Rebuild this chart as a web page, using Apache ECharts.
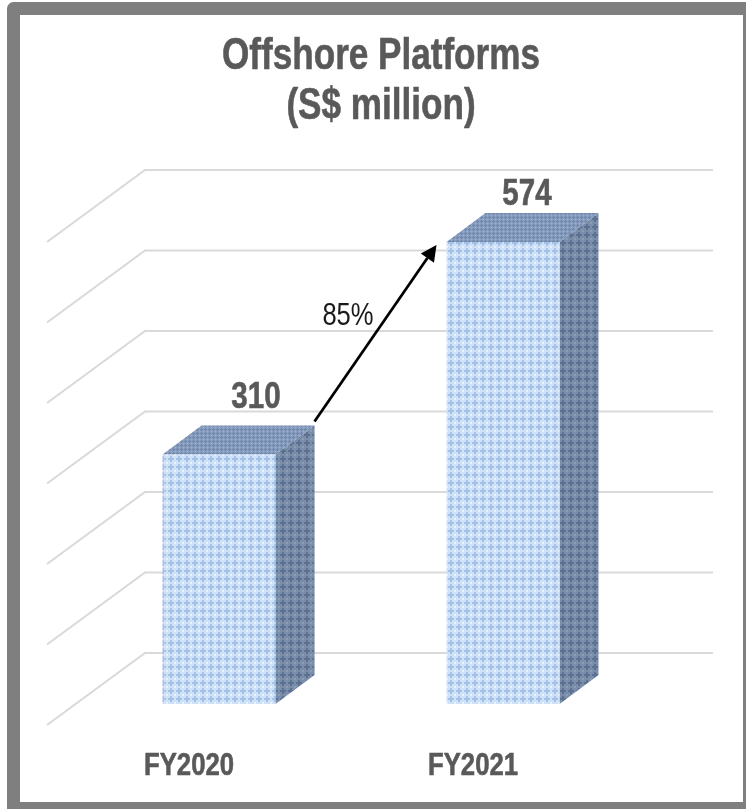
<!DOCTYPE html>
<html><head><meta charset="utf-8">
<style>html,body{margin:0;padding:0;background:#fff}#c{width:746px;height:809px}</style>
<script src="https://cdn.jsdelivr.net/npm/echarts@6/dist/echarts.min.js"></script></head>
<body><div id="c"></div>
<script>
const categories = ['FY2020', 'FY2021'];
const revenue = [310, 574];
const gridTicks = [0, 100, 200, 300, 400, 500, 600];
const growthLabel = '85%';
const titleLine1 = 'Offshore Platforms';
const titleLine2 = '(S$ million)';

const FONT = '"Liberation Sans",Arial,sans-serif';
const DEPTH = [98, -72], BAR_NEAR = [30, -21], BAR_DEPTH = [39, -29], BAR_W = 113;
const LABEL_SHIFT = [[17.5, -27], [4.5, -18]];

function tile(bg, fg, hi, cell) {
  const size = cell * 4;
  const c = document.createElement('canvas'); c.width = c.height = size;
  const g = c.getContext('2d');
  g.fillStyle = bg; g.fillRect(0, 0, size, size);
  g.fillStyle = fg;
  [[1, 0], [0, 1], [1, 1], [2, 1], [1, 2]].forEach(p => g.fillRect(p[0] * cell, p[1] * cell, cell, cell));
  g.fillStyle = hi;
  [[3, 3]].forEach(p => g.fillRect(p[0] * cell, p[1] * cell, cell, cell));
  return c;
}
const frontFill = { image: tile('#cfe1f6', '#a4c1e7', '#e6f0fb', 2), repeat: 'repeat' };
const topFill = { image: tile('#8a9fc0', '#6f88ad', '#9cb0cc', 1), repeat: 'repeat' };
const sideFill = { image: tile('#7a8da9', '#5c7192', '#8b9cb4', 2), repeat: 'repeat' };

function condensed(text, x, y, size, sx, weight, fill) {
  const heavy = weight === 'bold';
  return { type: 'text', x, y, scaleX: sx, z: 5,
    style: { text, fontFamily: FONT, fontSize: size, fontWeight: weight, fill, align: 'center', verticalAlign: 'middle',
      stroke: heavy ? fill : 'none', lineWidth: heavy ? 0.6 : 0 } };
}

const chart = echarts.init(document.getElementById('c'), null, { renderer: 'canvas' });
chart.setOption({
  animation: false,
  backgroundColor: '#fff',
  graphic: [
    { type: 'rect', z: 0, shape: { x: 13.5, y: 8.5, width: 736, height: 800 },
      style: { fill: 'none', stroke: '#7f7f7f', lineWidth: 13, lineJoin: 'round' } },
    condensed(titleLine1, 381, 57, 45, 0.78, 'bold', '#595959'),
    condensed(titleLine2, 381, 107, 45, 0.78, 'bold', '#595959')
  ],
  grid: { left: 47, right: 131, top: 242, bottom: 84 },
  xAxis: { type: 'category', data: categories, axisLine: { show: false }, axisTick: { show: false },
    axisLabel: { show: false } },
  yAxis: { type: 'value', min: 0, max: 600, interval: 100, axisLabel: { show: false },
    axisLine: { show: false }, axisTick: { show: false }, splitLine: { show: false } },
  series: [
    { type: 'custom', z: 1, data: gridTicks, silent: true, clip: false, encode: { y: 0 },
      renderItem(p, api) {
        const y = api.coord([0, api.value(0)])[1];
        const x0 = p.coordSys.x, x1 = x0 + p.coordSys.width;
        return { type: 'polyline', shape: { points: [[x0, y], [x0 + DEPTH[0], y + DEPTH[1]], [x1 + DEPTH[0], y + DEPTH[1]]] },
          style: { fill: 'none', stroke: '#d9d9d9', lineWidth: 2 } };
      } },
    { type: 'custom', z: 2, silent: true, clip: false, data: revenue.map((v, i) => [i, v]), encode: { x: 0, y: 1 },
      renderItem(p, api) {
        const i = api.value(0), v = api.value(1);
        const t = api.coord([i, v]), b = api.coord([i, 0]);
        const l = t[0] + BAR_NEAR[0] - BAR_W / 2, r = l + BAR_W;
        const yt = t[1] + BAR_NEAR[1], yb = b[1] + BAR_NEAR[1];
        const dx = BAR_DEPTH[0], dy = BAR_DEPTH[1];
        return { type: 'group', children: [
          { type: 'polygon', shape: { points: [[r, yt], [r + dx, yt + dy], [r + dx, yb + dy], [r, yb]] }, style: { fill: sideFill } },
          { type: 'polygon', shape: { points: [[l, yt], [l + dx, yt + dy], [r + dx, yt + dy], [r, yt]] }, style: { fill: topFill } },
          { type: 'rect', shape: { x: l, y: yt, width: BAR_W, height: yb - yt }, style: { fill: frontFill } },
          condensed(String(v), (l + r) / 2 + dx / 2 + LABEL_SHIFT[i][0], yt + dy + LABEL_SHIFT[i][1], 36, 0.82, 'bold', '#595959'),
          condensed(categories[i], b[0], b[1] + 41, 31, 0.83, 'bold', '#595959')
        ] };
      } },
    { type: 'custom', z: 3, silent: true, clip: false, data: [[revenue[0], revenue[1]]], encode: { y: [0, 1] },
      renderItem(p, api) {
        const a = api.coord([0, api.value(0)]), b = api.coord([1, api.value(1)]);
        const s = [a[0] + BAR_NEAR[0] + BAR_W / 2 + BAR_DEPTH[0], a[1] + BAR_NEAR[1] + BAR_DEPTH[1] - 4];
        const e = [b[0] + BAR_NEAR[0] - BAR_W / 2 - 10, b[1] + BAR_NEAR[1] + 3];
        const ang = Math.atan2(e[1] - s[1], e[0] - s[0]), L = 16, W = 8;
        const bx = e[0] - L * Math.cos(ang), by = e[1] - L * Math.sin(ang);
        const nx = -Math.sin(ang) * W, ny = Math.cos(ang) * W;
        return { type: 'group', children: [
          { type: 'line', shape: { x1: s[0], y1: s[1], x2: bx, y2: by }, style: { stroke: '#000', lineWidth: 2.75 } },
          { type: 'polygon', shape: { points: [e, [bx + nx, by + ny], [bx - nx, by - ny]] }, style: { fill: '#000' } },
          condensed(growthLabel, (s[0] + e[0]) / 2 - 27.5, (s[1] + e[1]) / 2 - 17, 32, 0.8, 'normal', '#1a1a1a')
        ] };
      } }
  ]
});
</script></body></html>
